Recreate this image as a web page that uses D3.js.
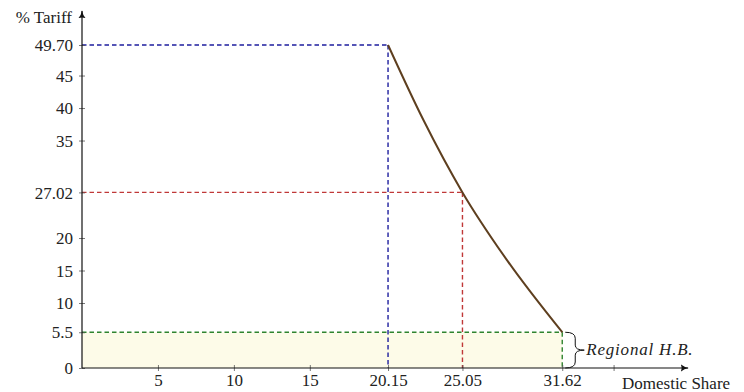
<!DOCTYPE html>
<html><head><meta charset="utf-8">
<script src="https://cdn.jsdelivr.net/npm/d3@7"></script>
<style>
html,body{margin:0;padding:0;background:#fff;}
</style></head>
<body><svg id="c" width="744" height="392"></svg>
<script>
// Data
const curveX = [20.15, 22.48, 25.05, 27.98, 31.62];
const curveY = [49.70, 38.15, 27.02, 16.6, 5.5];
const xTicks = [5, 10, 15, 20.15, 25.05, 31.62, 35];
const xTickLabels = ["5", "10", "15", "20.15", "25.05", "31.62", ""];
const yTicks = [0, 5.5, 10, 15, 20, 27.02, 35, 40, 45, 49.70];
const yTickLabels = ["0", "5.5", "10", "15", "20", "27.02", "35", "40", "45", "49.70"];
const refX = [20.15, 25.05, 31.62];
const refY = [49.70, 27.02, 5.5];
const refColors = ["#1e1e9e", "#c03838", "#2f842f"];
const hbTop = 5.5;
const hbRight = 31.62;

const FONT = "'Liberation Serif', 'DejaVu Serif', serif";
const svg = d3.select("#c");
const x = d3.scaleLinear().domain([0, 39.9]).range([82, 688]);
const y = d3.scaleLinear().domain([0, 49.70]).range([368, 45]);

// Fill region
svg.append("rect")
  .attr("x", x(0)).attr("y", y(hbTop))
  .attr("width", x(hbRight) - x(0)).attr("height", y(0) - y(hbTop))
  .attr("fill", "#fdfbe8");

// Reference dashed lines
refX.forEach((rx, i) => {
  const g = svg.append("g").attr("stroke", refColors[i]).attr("stroke-width", 1.4)
    .attr("stroke-dasharray", "4.5,3").attr("fill", "none");
  g.append("line").attr("x1", x(0)).attr("x2", x(rx)).attr("y1", y(refY[i])).attr("y2", y(refY[i]));
  g.append("line").attr("x1", x(rx)).attr("x2", x(rx)).attr("y1", y(refY[i])).attr("y2", y(0));
});

// Curve
const pts = curveX.map((v, i) => [v, curveY[i]]);
svg.append("path").datum(pts)
  .attr("d", d3.line().x(d => x(d[0])).y(d => y(d[1])).curve(d3.curveMonotoneX))
  .attr("fill", "none").attr("stroke", "#5e3f1f").attr("stroke-width", 2);

// Arrow marker
const defs = svg.append("defs");
defs.append("marker").attr("id", "arr").attr("viewBox", "0 0 10 10")
  .attr("refX", 9).attr("refY", 5).attr("markerWidth", 8).attr("markerHeight", 8)
  .attr("markerUnits", "userSpaceOnUse").attr("orient", "auto")
  .append("path").attr("d", "M0,0.5 Q4,4 10,5 Q4,6 0,9.5 Q2,5 0,0.5Z").attr("fill", "#111");

// Axes
const xAxis = d3.axisBottom(x).tickValues(xTicks).tickSize(0).tickFormat((d, i) => xTickLabels[i]);
const gx = svg.append("g").attr("transform", `translate(0,${y(0)})`).call(xAxis);
gx.select(".domain").remove();
gx.selectAll(".tick text").attr("dy", 0).attr("y", 18).attr("fill", "#222")
  .style("font-family", FONT).style("font-size", "17px");
gx.selectAll(".tick").append("line").attr("y1", -3).attr("y2", 3).attr("stroke", "#555").attr("stroke-width", 0.8);

const yAxis = d3.axisLeft(y).tickValues(yTicks).tickSize(0).tickFormat((d, i) => yTickLabels[i]);
const gy = svg.append("g").attr("transform", `translate(${x(0)},0)`).call(yAxis);
gy.select(".domain").remove();
gy.selectAll(".tick text").attr("x", -9).attr("dy", "0.33em").attr("fill", "#222")
  .style("font-family", FONT).style("font-size", "17px");
gy.selectAll(".tick").append("line").attr("x1", -3).attr("x2", 3).attr("stroke", "#555").attr("stroke-width", 0.8);

svg.append("line").attr("x1", x(0)).attr("x2", 688).attr("y1", y(0)).attr("y2", y(0))
  .attr("stroke", "#111").attr("stroke-width", 1.2).attr("marker-end", "url(#arr)");
svg.append("line").attr("x1", x(0)).attr("x2", x(0)).attr("y1", y(0)).attr("y2", 11)
  .attr("stroke", "#111").attr("stroke-width", 1.2).attr("marker-end", "url(#arr)");

// Axis labels
svg.append("text").attr("x", 72).attr("y", 23).attr("text-anchor", "end").attr("fill", "#222")
  .style("font-family", FONT).style("font-size", "17px").text("% Tariff");
svg.append("text").attr("x", 622).attr("y", 389).attr("fill", "#222")
  .style("font-family", FONT).style("font-size", "17px").text("Domestic Share");

// Brace
const bx = x(hbRight) + 3, yt = y(hbTop), yb = y(0), ym = (yt + yb) / 2, w = 10;
svg.append("path")
  .attr("d", `M${bx},${yt} Q${bx + w},${yt} ${bx + w},${yt + 6} L${bx + w},${ym - 5} Q${bx + w},${ym} ${bx + w + 9},${ym} Q${bx + w},${ym} ${bx + w},${ym + 5} L${bx + w},${yb - 6} Q${bx + w},${yb} ${bx},${yb}`)
  .attr("fill", "none").attr("stroke", "#111").attr("stroke-width", 1);
svg.append("text").attr("x", bx + w + 11).attr("y", ym + 5).attr("fill", "#222")
  .style("font-family", FONT).style("font-size", "17px").style("font-style", "italic")
  .style("letter-spacing", "0.8px").text("Regional H.B.");
</script></body></html>
